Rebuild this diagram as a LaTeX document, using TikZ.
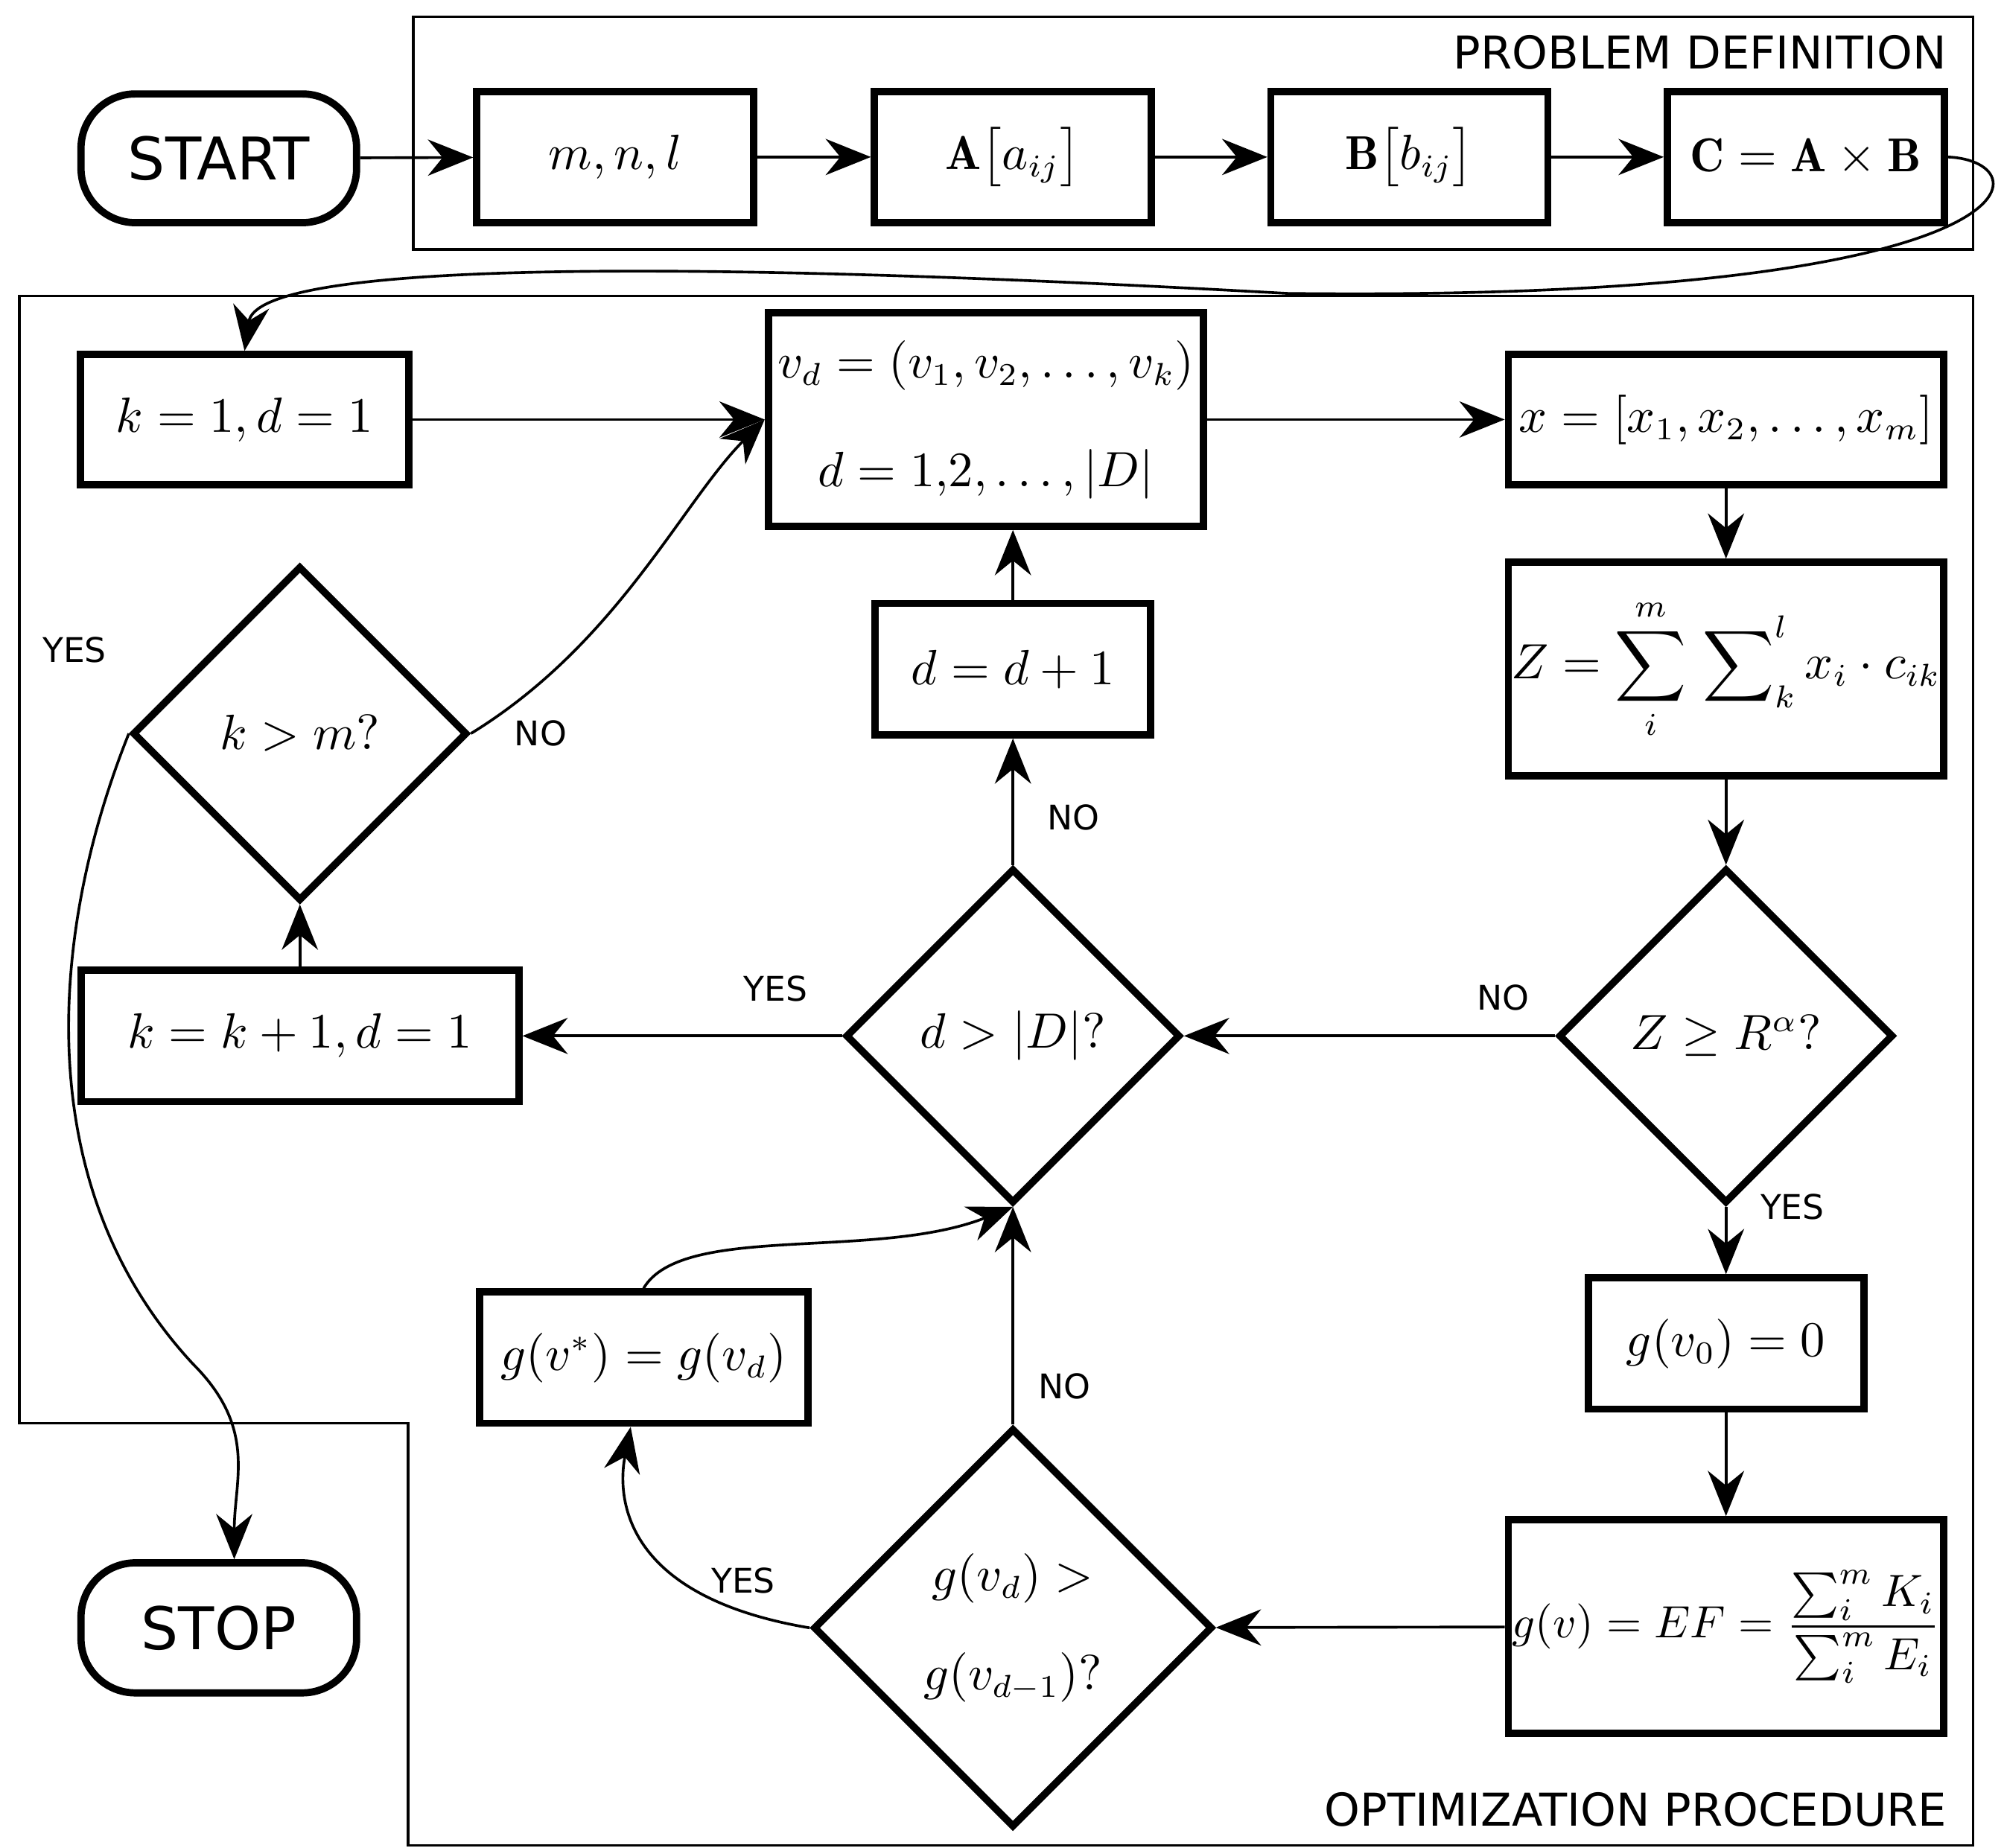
\documentclass[tikz,border=0pt]{standalone}
\usepackage{fontspec}
\usepackage{amsmath}
\newfontfamily\lab{DejaVu Sans}
\usetikzlibrary{shapes.geometric,arrows.meta}
\tikzset{
  box/.style={draw,line width=1.6pt,inner sep=0pt,font=\fontsize{10.5}{12}\selectfont},
  term/.style={box,rounded corners=12pt,font=\lab\fontsize{13}{15}\selectfont},
  dec/.style={draw,line width=1.6pt,diamond,inner sep=0pt,font=\fontsize{10.5}{12}\selectfont},
  arr/.style={-{Stealth[length=10pt,width=8pt]},line width=0.6pt},
  yn/.style={font=\lab\fontsize{7.5}{9}\selectfont}
}
\begin{document}
\begin{tikzpicture}[x=0.01cm,y=-0.01cm]
\useasboundingbox (0,0) rectangle (1557,1436);
% frames
\draw[line width=0.6pt] (321,13) rectangle (1533,194);
\node[font=\lab\fontsize{10}{12}\selectfont,anchor=north east] (pd) at (1525,15) {PROBLEM DEFINITION};
\draw[line width=0.6pt] (15,230) -- (1533,230) -- (1533,1434) -- (317,1434) -- (317,1106) -- (15,1106) -- cycle;
\node[font=\lab\fontsize{10}{12}\selectfont,anchor=south east] (op) at (1525,1432) {OPTIMIZATION PROCEDURE};
% problem definition
\node[term,minimum width=2.14cm,minimum height=1.0cm] (start) at (170,123) {START};
\node[box,minimum width=2.15cm,minimum height=1.02cm] (mnl) at (478,122) {$m,n,l$};
\node[box,minimum width=2.15cm,minimum height=1.02cm] (A) at (787,122) {$\mathbf{A}\big[a_{ij}\big]$};
\node[box,minimum width=2.15cm,minimum height=1.02cm] (B) at (1095,122) {$\mathbf{B}\big[b_{ij}\big]$};
\node[box,minimum width=2.15cm,minimum height=1.02cm] (C) at (1403,122) {$\mathbf{C}=\mathbf{A}\times\mathbf{B}$};
% optimization
\node[box,minimum width=2.55cm,minimum height=1.01cm] (k1) at (190,326) {$k=1,d=1$};
\node[box,minimum width=3.38cm,minimum height=1.66cm,align=center] (vd) at (766,326) {$v_d=(v_1,v_2,\dots,v_k)$\\[12pt]$d=1{,}2,\dots,|D|$};
\node[box,minimum width=3.38cm,minimum height=1.01cm] (x) at (1341,326) {$x=[x_1,x_2,\dots,x_m]$};
\node[box,minimum width=3.38cm,minimum height=1.66cm] (Z) at (1341,520) {$Z=\displaystyle\sum_i^m\,\sum\nolimits_k^l x_i\cdot c_{ik}$};
\node[box,minimum width=2.14cm,minimum height=1.02cm] (dd) at (787,520) {$d=d+1$};
\node[dec,minimum width=2.6cm,minimum height=2.6cm] (km) at (233,570) {$k>m?$};
\node[dec,minimum width=2.6cm,minimum height=2.6cm] (dD) at (787,805) {$d>|D|?$};
\node[dec,minimum width=2.6cm,minimum height=2.6cm] (ZR) at (1341,805) {$Z\geq R^\alpha?$};
\node[box,minimum width=3.4cm,minimum height=1.02cm] (kk) at (233,805) {$k=k+1,d=1$};
\node[box,minimum width=2.14cm,minimum height=1.02cm] (g0) at (1341,1044) {$g(v_0)=0$};
\node[box,minimum width=2.55cm,minimum height=1.02cm] (gs) at (500,1055) {$g(v^*)=g(v_d)$};
\node[box,minimum width=3.38cm,minimum height=1.66cm,font=\fontsize{10}{12}\selectfont] (EF) at (1341,1264) {$g(v)=EF=\dfrac{\sum_i^m K_i}{\sum_i^m E_i}$};
\node[dec,minimum width=3.1cm,minimum height=3.1cm,align=center] (gg) at (787,1265) {$g(v_d)>$\\[10pt]$g(v_{d-1})?$};
\node[term,minimum width=2.14cm,minimum height=1.01cm] (stop) at (170,1265) {STOP};
% connectors
\draw[arr] (start) -- (mnl);
\draw[arr] (mnl) -- (A);
\draw[arr] (A) -- (B);
\draw[arr] (B) -- (C);
\draw[arr] (C.east) .. controls (1590,125) and (1590,235) .. (1000,228) .. controls (500,200) and (200,205) .. (k1.north);
\draw[arr] (k1.east) -- (vd.west |- k1.east);
\draw[arr] (vd.east |- x.west) -- (x.west);
\draw[arr] (x) -- (Z);
\draw[arr] (Z) -- (ZR);
\draw[arr] (ZR.south) node[yn,right=4pt] {YES} -- (g0);
\draw[arr] (ZR.west) node[yn,above left=2pt] {NO} -- (dD);
\draw[arr] (g0) -- (EF);
\draw[arr] (EF) -- (gg);
\draw[arr] (gg.north) node[yn,above right=2pt] {NO} -- (dD);
\draw[arr] (gg.west) node[yn,above left=4pt] {YES} .. controls (480,1240) and (480,1160) .. (gs.south -| 490,0);
\draw[arr] (gs.north) .. controls (530,950) and (680,980) .. (dD.south);
\draw[arr] (dD.north) node[yn,above right=4pt] {NO} -- (dd);
\draw[arr] (dd) -- (dd |- vd.south);
\draw[arr] (dD.west) node[yn,above left=4pt] {YES} -- (kk);
\draw[arr] (kk) -- (km);
\draw[arr] (km.east) node[yn,right=6pt] {NO} .. controls (480,500) and (530,390) .. (vd.west |- k1.east);
\draw[arr] (km.west) node[yn,above=12pt,xshift=-12pt] {YES} .. controls (40,720) and (20,920) .. (150,1060) .. controls (200,1110) and (182,1150) .. (stop.north -| 182,0);
\end{tikzpicture}
\end{document}
